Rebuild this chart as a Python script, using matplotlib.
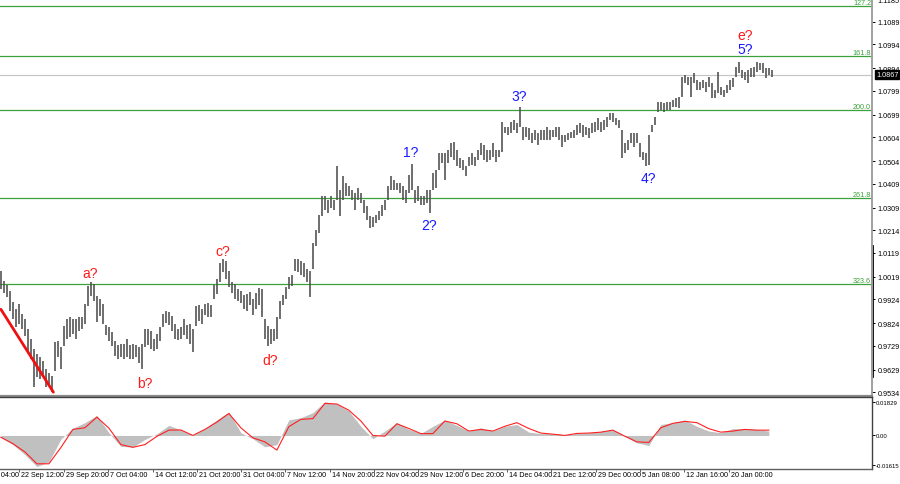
import matplotlib
matplotlib.use("Agg")
import matplotlib.pyplot as plt
import matplotlib.transforms as mtransforms
from matplotlib.lines import Line2D

plt.rcParams['font.family'] = ['Liberation Sans', 'DejaVu Sans']
small = 5.2
osc_small = 4.3

# ---------------- data ----------------
bar_high = [
    1.0042, 1.0000, 0.9983, 0.9958, 0.9911, 0.9882, 0.9903, 0.9861, 0.9840, 0.9798,
    0.9756, 0.9714, 0.9693, 0.9680, 0.9665, 0.9631, 0.9614, 0.9602, 0.9743, 0.9748,
    0.9722, 0.9811, 0.9840, 0.9848, 0.9840, 0.9840, 0.9848, 0.9848, 0.9903, 0.9979,
    0.9995, 0.9987, 0.9937, 0.9924, 0.9903, 0.9815, 0.9806, 0.9785, 0.9748, 0.9731,
    0.9735, 0.9735, 0.9756, 0.9731, 0.9735, 0.9731, 0.9722, 0.9735, 0.9798, 0.9798,
    0.9790, 0.9756, 0.9777, 0.9806, 0.9861, 0.9874, 0.9869, 0.9853, 0.9819, 0.9798,
    0.9806, 0.9840, 0.9815, 0.9819, 0.9798, 0.9895, 0.9899, 0.9882, 0.9903, 0.9907,
    0.9899, 0.9983, 1.0008, 1.0075, 1.0092, 1.0083, 1.0042, 0.9995, 0.9987, 0.9966,
    0.9958, 0.9941, 0.9945, 0.9953, 0.9924, 0.9949, 0.9970, 0.9966, 0.9840, 0.9811,
    0.9798, 0.9798, 0.9848, 0.9916, 0.9941, 0.9974, 1.0016, 1.0028, 1.0092, 1.0092,
    1.0083, 1.0075, 1.0050, 1.0042, 1.0162, 1.0217, 1.0280, 1.0356, 1.0356, 1.0343,
    1.0356, 1.0343, 1.0482, 1.0385, 1.0440, 1.0414, 1.0398, 1.0385, 1.0372, 1.0393,
    1.0372, 1.0343, 1.0314, 1.0272, 1.0268, 1.0280, 1.0293, 1.0322, 1.0343, 1.0398,
    1.0440, 1.0427, 1.0414, 1.0414, 1.0398, 1.0385, 1.0448, 1.0494, 1.0385, 1.0398,
    1.0356, 1.0356, 1.0385, 1.0385, 1.0456, 1.0469, 1.0539, 1.0539, 1.0539, 1.0552,
    1.0581, 1.0586, 1.0552, 1.0518, 1.0511, 1.0482, 1.0523, 1.0539, 1.0523, 1.0552,
    1.0581, 1.0573, 1.0552, 1.0552, 1.0581, 1.0552, 1.0552, 1.0670, 1.0649, 1.0649,
    1.0670, 1.0678, 1.0666, 1.0733, 1.0649, 1.0649, 1.0645, 1.0624, 1.0636, 1.0624,
    1.0636, 1.0636, 1.0649, 1.0636, 1.0636, 1.0649, 1.0649, 1.0615, 1.0615, 1.0624,
    1.0628, 1.0636, 1.0657, 1.0666, 1.0657, 1.0649, 1.0645, 1.0666, 1.0670, 1.0687,
    1.0670, 1.0678, 1.0691, 1.0708, 1.0708, 1.0687, 1.0678, 1.0636, 1.0581, 1.0594,
    1.0624, 1.0624, 1.0624, 1.0581, 1.0544, 1.0539, 1.0615, 1.0657, 1.0691, 1.0754,
    1.0754, 1.0750, 1.0754, 1.0754, 1.0762, 1.0770, 1.0774, 1.0859, 1.0867, 1.0859,
    1.0859, 1.0875, 1.0846, 1.0837, 1.0846, 1.0837, 1.0859, 1.0833, 1.0804, 1.0879,
    1.0817, 1.0804, 1.0825, 1.0846, 1.0854, 1.0901, 1.0922, 1.0888, 1.0879, 1.0888,
    1.0896, 1.0901, 1.0922, 1.0917, 1.0917, 1.0896, 1.0896, 1.0888,
]
bar_low = [
    0.9966, 0.9949, 0.9932, 0.9874, 0.9840, 0.9806, 0.9819, 0.9798, 0.9769, 0.9706,
    0.9673, 0.9555, 0.9597, 0.9589, 0.9597, 0.9555, 0.9564, 0.9534, 0.9623, 0.9680,
    0.9631, 0.9727, 0.9756, 0.9764, 0.9777, 0.9756, 0.9790, 0.9798, 0.9819, 0.9895,
    0.9937, 0.9916, 0.9827, 0.9853, 0.9819, 0.9773, 0.9748, 0.9727, 0.9685, 0.9673,
    0.9680, 0.9673, 0.9680, 0.9673, 0.9673, 0.9680, 0.9656, 0.9631, 0.9722, 0.9731,
    0.9714, 0.9706, 0.9714, 0.9748, 0.9806, 0.9823, 0.9815, 0.9790, 0.9756, 0.9752,
    0.9756, 0.9773, 0.9756, 0.9735, 0.9701, 0.9811, 0.9832, 0.9819, 0.9857, 0.9848,
    0.9848, 0.9924, 0.9945, 0.9995, 1.0037, 1.0008, 0.9974, 0.9949, 0.9924, 0.9916,
    0.9907, 0.9882, 0.9874, 0.9899, 0.9857, 0.9882, 0.9899, 0.9848, 0.9756, 0.9727,
    0.9735, 0.9748, 0.9756, 0.9840, 0.9899, 0.9924, 0.9966, 0.9979, 1.0042, 1.0037,
    1.0028, 1.0016, 0.9995, 0.9932, 1.0050, 1.0146, 1.0204, 1.0272, 1.0301, 1.0288,
    1.0309, 1.0301, 1.0343, 1.0272, 1.0343, 1.0356, 1.0356, 1.0343, 1.0301, 1.0343,
    1.0330, 1.0288, 1.0259, 1.0225, 1.0229, 1.0246, 1.0259, 1.0272, 1.0301, 1.0343,
    1.0385, 1.0385, 1.0385, 1.0372, 1.0343, 1.0330, 1.0372, 1.0385, 1.0330, 1.0335,
    1.0322, 1.0322, 1.0330, 1.0288, 1.0385, 1.0393, 1.0469, 1.0498, 1.0427, 1.0498,
    1.0523, 1.0511, 1.0482, 1.0477, 1.0469, 1.0440, 1.0482, 1.0490, 1.0482, 1.0511,
    1.0531, 1.0511, 1.0502, 1.0511, 1.0523, 1.0502, 1.0523, 1.0544, 1.0624, 1.0615,
    1.0624, 1.0636, 1.0624, 1.0649, 1.0594, 1.0607, 1.0594, 1.0581, 1.0594, 1.0573,
    1.0594, 1.0594, 1.0594, 1.0594, 1.0607, 1.0607, 1.0594, 1.0565, 1.0586, 1.0594,
    1.0603, 1.0603, 1.0615, 1.0624, 1.0607, 1.0615, 1.0603, 1.0624, 1.0628, 1.0636,
    1.0628, 1.0636, 1.0649, 1.0678, 1.0670, 1.0657, 1.0645, 1.0518, 1.0539, 1.0552,
    1.0581, 1.0565, 1.0581, 1.0523, 1.0511, 1.0482, 1.0490, 1.0628, 1.0657, 1.0712,
    1.0720, 1.0712, 1.0720, 1.0720, 1.0733, 1.0733, 1.0729, 1.0774, 1.0833, 1.0825,
    1.0774, 1.0833, 1.0804, 1.0804, 1.0812, 1.0796, 1.0817, 1.0770, 1.0770, 1.0791,
    1.0783, 1.0774, 1.0791, 1.0804, 1.0817, 1.0859, 1.0875, 1.0854, 1.0846, 1.0833,
    1.0859, 1.0859, 1.0879, 1.0888, 1.0875, 1.0854, 1.0867, 1.0859,
]

# oscillator (one value every 4 bars)
osc_step = 4
osc_hist = [
    -0.0010, -0.0050, -0.0105, -0.0170, -0.0145, -0.0020, 0.0040, 0.0070, 0.0110, 0.0015,
    -0.0060, -0.0063, -0.0022, 0.0009, 0.0055, 0.0030, 0.0000, 0.0037, 0.0085, 0.0128,
    0.0015, -0.0018, -0.0062, -0.0050, 0.0085, 0.0097, 0.0125, 0.0185, 0.0172, 0.0134,
    0.0050, -0.0018, 0.0024, 0.0070, 0.0033, 0.0011, 0.0050, 0.0084, 0.0055, 0.0024,
    0.0042, 0.0024, 0.0050, 0.0060, 0.0018, 0.0010, 0.0010, 0.0004, 0.0011, 0.0015,
    0.0022, 0.0033, -0.0004, -0.0040, -0.0055, 0.0060, 0.0070, 0.0084, 0.0050, 0.0024,
    0.0015, 0.0037, 0.0037, 0.0033, 0.0024,
]
osc_signal = [
    -0.0010, -0.0045, -0.0090, -0.0155, -0.0155, -0.0066, 0.0033, 0.0042, 0.0100, 0.0040,
    -0.0050, -0.0065, -0.0050, -0.0005, 0.0029, 0.0030, 0.0000, 0.0033, 0.0073, 0.0120,
    0.0042, -0.0013, -0.0035, -0.0080, 0.0048, 0.0088, 0.0092, 0.0175, 0.0172, 0.0138,
    0.0079, 0.0000, -0.0004, 0.0064, 0.0038, 0.0010, 0.0010, 0.0079, 0.0064, 0.0024,
    0.0033, 0.0024, 0.0050, 0.0070, 0.0038, 0.0013, 0.0007, 0.0000, 0.0011, 0.0013,
    0.0018, 0.0029, -0.0004, -0.0035, -0.0038, 0.0042, 0.0066, 0.0077, 0.0070, 0.0037,
    0.0018, 0.0024, 0.0033, 0.0029, 0.0029,
]

fib_levels = [1.1155, 1.0946, 1.0720, 1.0350, 0.9987]
fib_labels = ['127.2', '161.8', '200.0', '261.8', '323.6']
current_price = 1.0867

price_ticks = [0.9534, 0.9629, 0.9729, 0.9824, 0.9924, 1.0019, 1.0119, 1.0214, 1.0309,
               1.0409, 1.0504, 1.0604, 1.0699, 1.0799, 1.0894, 1.0994, 1.1089, 1.1185]
osc_ticks = [0.01829, 0.0, -0.01615]
osc_tick_labels = ['0.01829', '0.00', '-0.01615']

date_labels = ['15 Sep 04:00', '22 Sep 12:00', '29 Sep 20:00', '7 Oct 04:00', '14 Oct 12:00',
               '21 Oct 20:00', '31 Oct 04:00', '7 Nov 12:00', '14 Nov 20:00', '22 Nov 04:00',
               '29 Nov 12:00', '6 Dec 20:00', '14 Dec 04:00', '21 Dec 12:00', '29 Dec 00:00',
               '5 Jan 08:00', '12 Jan 16:00', '20 Jan 00:00']
date_bars = [-9.0, 6.0, 21.0, 35.7, 50.7, 65.3, 80.0, 94.7, 109.7, 124.3, 139.0, 154.0,
             168.7, 183.3, 198.3, 213.0, 227.7, 242.7]

wave_text = ['a?', 'b?', 'c?', 'd?', '1?', '2?', '3?', '4?', '5?', 'e?']
wave_bar = [29.8, 48.0, 74.0, 89.7, 136.7, 142.7, 172.7, 216.0, 248.0, 248.0]
wave_price = [1.0035, 0.9572, 1.0127, 0.9668, 1.0544, 1.0234, 1.0779, 1.0435, 1.0974, 1.1034]
wave_color = ['#ff1a1a', '#ff1a1a', '#ff1a1a', '#ff1a1a', '#1a1aff', '#1a1aff', '#1a1aff',
              '#1a1aff', '#1a1aff', '#ff1a1a']

trend_bars = [0.0, 17.5]
trend_prices = [0.9882, 0.9534]

# ---------------- figure ----------------
W, H = 900, 485
fig = plt.figure(figsize=(W / 100, H / 100), dpi=100)
fig.patch.set_facecolor('white')

ax = fig.add_axes([0, 1 - 397 / H, 872 / W, 397 / H])
ax2 = fig.add_axes([0, 1 - 470 / H, 872 / W, 72 / H])

xlim = (-0.3, 290.4)
GREEN = '#3aa23a'

# price bars
xs = list(range(len(bar_high)))
ax.vlines(xs, bar_low, bar_high, colors='#555555', linewidth=1.2)

# fib lines
ytr = mtransforms.blended_transform_factory(ax.transAxes, ax.transData)
for lvl, lab in zip(fib_levels, fib_labels):
    ax.axhline(lvl, color=GREEN, lw=0.9, zorder=1)
    ax.text(0.999, lvl, lab, transform=ytr, ha='right', va='bottom',
            fontsize=small, color=GREEN)

ax.axhline(current_price, color='#c4c4c4', lw=0.8, zorder=1)

# trend line
ax.plot(trend_bars, trend_prices, color='#ee1111', lw=2.0, solid_capstyle='round', zorder=3)

# wave labels
for t, b, p, c in zip(wave_text, wave_bar, wave_price, wave_color):
    ax.text(b, p, t, color=c, fontsize=10, ha='center', va='center', zorder=4)

ax.set_xlim(*xlim)
ax.set_ylim(0.9518, 1.1181)
ax.yaxis.tick_right()
ax.set_yticks(price_ticks)
ax.set_yticklabels(['%.4f' % v for v in price_ticks])
ax.tick_params(axis='y', length=2.5, width=0.7, pad=1.5, labelsize=small, colors='black')
ax.set_xticks([])
for s in ['left', 'top']:
    ax.spines[s].set_visible(False)
ax.spines['right'].set_color('#a0a0a0')
ax.spines['right'].set_linewidth(1.4)
ax.spines['bottom'].set_color('#8a8a8a')
ax.spines['bottom'].set_linewidth(1.6)
ax.add_line(Line2D([1.0, 1.0], [1 - 247 / 397, 1 - 377 / 397], transform=ax.transAxes,
                   color='black', lw=2.0, clip_on=False))

# current price tag
ax.text(1.0045, current_price, '%.4f' % current_price, transform=ytr,
        ha='left', va='center', fontsize=small, color='white',
        bbox=dict(boxstyle='square,pad=0.12', fc='black', ec='black'), zorder=5, clip_on=False)

# oscillator
ox = [i * osc_step for i in range(len(osc_hist))]
ax2.fill_between(ox, 0, osc_hist, color='#c0c0c0', lw=0, zorder=1)
ax2.plot(ox, osc_signal, color='#ff2020', lw=0.8, zorder=2)
ax2.set_xlim(*xlim)
ax2.set_ylim(-0.01834, 0.02102)
ax2.yaxis.tick_right()
ax2.set_yticks(osc_ticks)
ax2.set_yticklabels(osc_tick_labels)
ax2.tick_params(axis='y', length=2.0, width=0.7, pad=0.8, labelsize=osc_small)
ax2.set_xticks([b for b in date_bars if b >= xlim[0]])
ax2.tick_params(axis='x', length=2.5, width=0.7, color='#606060', labelbottom=False)
ax2.spines['left'].set_visible(False)
ax2.spines['top'].set_color('#404040')
ax2.spines['right'].set_color('#404040')
ax2.spines['bottom'].set_color('#606060')
for s in ['top', 'right', 'bottom']:
    ax2.spines[s].set_linewidth(1.0)

tr = mtransforms.blended_transform_factory(ax2.transData, ax2.transAxes)
for b, lab in zip(date_bars, date_labels):
    ax2.text(b + 0.7, -6 / 72, lab, transform=tr, ha='left', va='center',
             fontsize=small, color='black', clip_on=False)

fig.savefig('out.png', dpi=100, facecolor='white')
